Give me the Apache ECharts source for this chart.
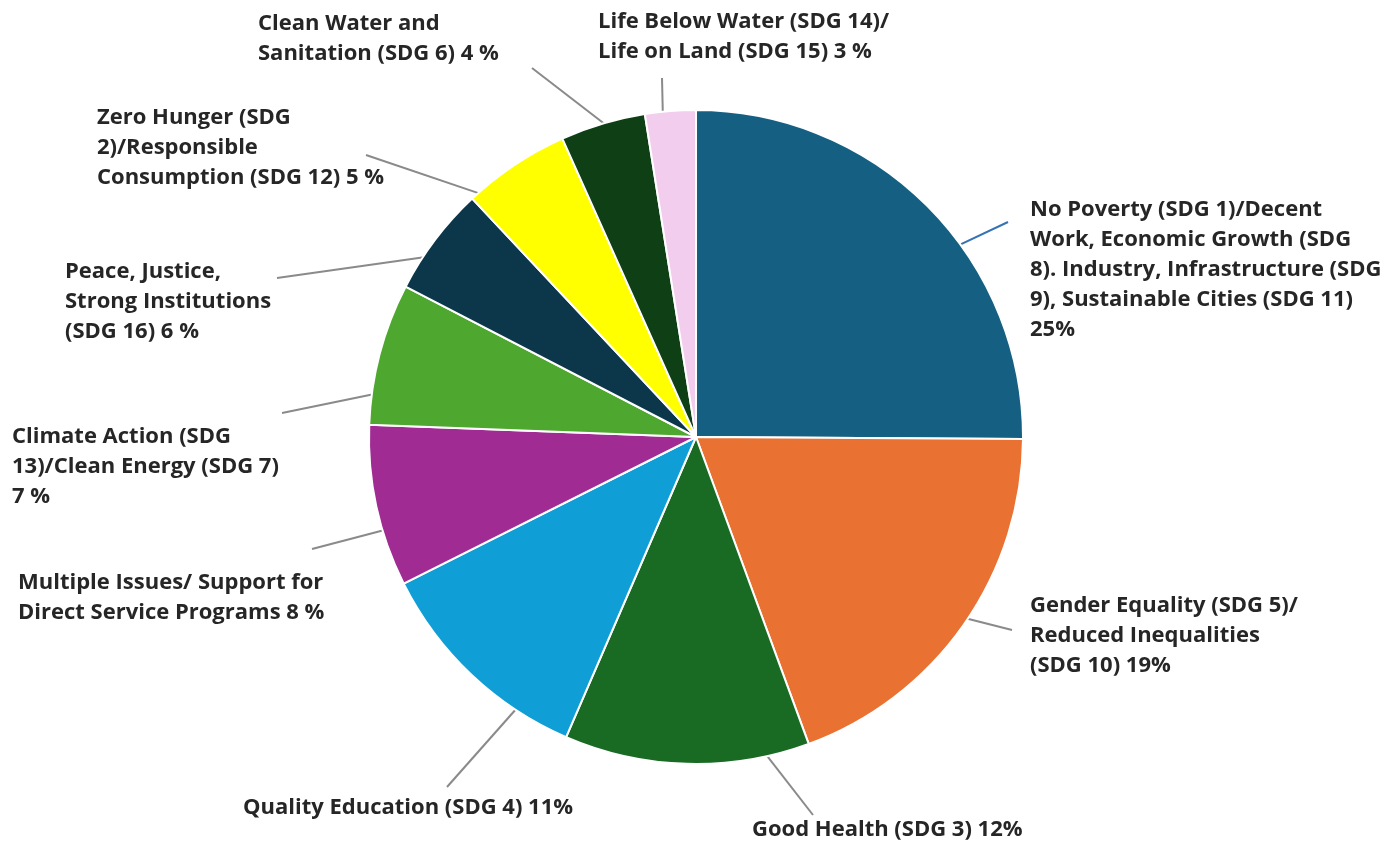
<!DOCTYPE html>
<html lang="en">
<head>
    <meta charset="UTF-8">
    <title>SDG share</title>
    <style>html, body { margin: 0; padding: 0; background: #fff; }</style>
</head>
<body>
<div id="m1" style="width: 1393px;height: 844px"></div>
<script src="https://cdn.jsdelivr.net/npm/echarts@6/dist/echarts.min.js"></script>
<script>
    // slices, clockwise from 12 o'clock
    var categories = [
        'No Poverty (SDG 1)/Decent Work, Economic Growth (SDG 8). Industry, Infrastructure (SDG 9), Sustainable Cities (SDG 11)',
        'Gender Equality (SDG 5)/ Reduced Inequalities (SDG 10)',
        'Good Health (SDG 3)',
        'Quality Education (SDG 4)',
        'Multiple Issues/ Support for Direct Service Programs',
        'Climate Action (SDG 13)/Clean Energy (SDG 7)',
        'Peace, Justice, Strong Institutions (SDG 16)',
        'Zero Hunger (SDG 2)/Responsible Consumption (SDG 12)',
        'Clean Water and Sanitation (SDG 6)',
        'Life Below Water (SDG 14)/ Life on Land (SDG 15)'
    ];
    // slice sizes as drawn (the labels show them rounded)
    var values = [25.1, 19.3, 12.1, 11.1, 8.0, 7.0, 5.4, 5.3, 4.2, 2.5];
    // label text as wrapped in the picture
    var labelTexts = [
        'No Poverty (SDG 1)/Decent\nWork, Economic Growth (SDG\n8). Industry, Infrastructure (SDG\n9), Sustainable Cities (SDG 11)\n25%',
        'Gender Equality (SDG 5)/\nReduced Inequalities\n(SDG 10) 19%',
        'Good Health (SDG 3) 12%',
        'Quality Education (SDG 4) 11%',
        'Multiple Issues/ Support for\nDirect Service Programs 8 %',
        'Climate Action (SDG\n13)/Clean Energy (SDG 7)\n7 %',
        'Peace, Justice,\nStrong Institutions\n(SDG 16) 6 %',
        'Zero Hunger (SDG\n2)/Responsible\nConsumption (SDG 12) 5 %',
        'Clean Water and\nSanitation (SDG 6) 4 %',
        'Life Below Water (SDG 14)/\nLife on Land (SDG 15) 3 %'
    ];
    var colors = ['#156082', '#e97132', '#196b24', '#0f9ed5', '#a02b93',
        '#4ea72e', '#0c3649', '#ffff00', '#0f3f14', '#f2cdee'];
    // label top-left corner, where its guide line stops, and how far (deg) the line's
    // foot is turned away from the slice middle
    var labelSpots = [
        [1030, 195, 1008, 222, 8.6],
        [1030, 591, 1012, 630, -1],
        [752, 815, 813, 815, -13.8],
        [243, 793, 447, 787, -10],
        [18, 568, 312, 549, -4.4],
        [12, 422, 282, 413, -7],
        [65, 257, 277, 278, -3],
        [97, 103, 366, 155, -7.6],
        [258, 9, 532, 68, 0.8],
        [598, 7, 662, 78, -1.4]
    ];
    var pieCenter = [696, 437];

    function turnFoot(pt, deg) {
        var a = deg * Math.PI / 180;
        var dx = pt[0] - pieCenter[0], dy = pt[1] - pieCenter[1];
        var k = 0.985;
        return [pieCenter[0] + k * (dx * Math.cos(a) - dy * Math.sin(a)),
            pieCenter[1] + k * (dx * Math.sin(a) + dy * Math.cos(a))];
    }

    var my1 = echarts.init(document.getElementById("m1"));
    var option1 = {
        backgroundColor: '#ffffff',
        animation: false,
        series: [
            {
                type: 'pie',
                center: pieCenter,
                radius: 327,
                startAngle: 90,
                clockwise: true,
                data: values.map(function (v, i) {
                    return {
                        name: categories[i],
                        value: v,
                        itemStyle: {color: colors[i]},
                        labelLine: {lineStyle: {color: i === 0 ? '#3673b3' : '#8a8a8a'}}
                    };
                }),
                itemStyle: {
                    borderColor: '#ffffff',
                    borderWidth: 2
                },
                label: {
                    show: true,
                    position: 'outside',
                    formatter: function (p) {
                        return labelTexts[p.dataIndex];
                    },
                    color: '#262626',
                    fontFamily: 'Open Sans',
                    fontWeight: 'bold',
                    fontSize: 22,
                    lineHeight: 30
                },
                labelLine: {
                    show: true,
                    smooth: false,
                    lineStyle: {width: 2, color: '#8a8a8a'}
                },
                labelLayout: function (params) {
                    var s = labelSpots[params.dataIndex];
                    return {
                        x: s[0],
                        y: s[1],
                        align: 'left',
                        verticalAlign: 'top',
                        hideOverlap: false,
                        moveOverlap: null,
                        labelLinePoints: [turnFoot(params.labelLinePoints[0], s[4]), [s[2], s[3]]]
                    };
                }
            }
        ]
    };
    my1.setOption(option1);
</script>
</body>
</html>
